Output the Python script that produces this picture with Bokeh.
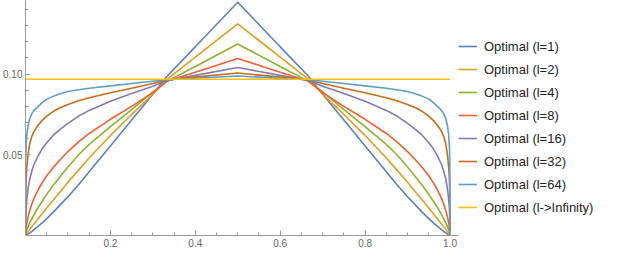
from bokeh.plotting import figure
from bokeh.models import Range1d, FixedTicker, PrintfTickFormatter, Legend, LegendItem
from bokeh.embed import file_html
from bokeh.resources import INLINE

# x positions shared by the curves
x = [0, 0.0005, 0.0015, 0.003, 0.006, 0.01, 0.015, 0.02, 0.03, 0.04, 0.05, 0.065, 0.08, 0.1, 0.125, 0.15,
     0.2, 0.25, 0.3, 0.333, 0.4,
     0.5,
     0.6, 0.667, 0.7, 0.75, 0.8, 0.85, 0.875, 0.9, 0.92, 0.935, 0.95, 0.96, 0.97, 0.98, 0.985, 0.99,
     0.994, 0.997, 0.9985, 0.9995, 1.0]

y_l1 = [0, 0.00005, 0.0002, 0.0004, 0.0009, 0.0016, 0.0025, 0.0036, 0.0058, 0.0080, 0.0105, 0.0143, 0.0185, 0.0240, 0.0315, 0.0395,
        0.0555, 0.0715, 0.0875, 0.0985, 0.1169,
        0.1445,
        0.1169, 0.0985, 0.0875, 0.0715, 0.0555, 0.0395, 0.0315, 0.0240, 0.0185, 0.0143, 0.0105, 0.0080, 0.0058, 0.0036, 0.0025, 0.0016,
        0.0009, 0.0004, 0.0002, 0.00005, 0]
y_l2 = [0, 0.0002, 0.0006, 0.0012, 0.0024, 0.0038, 0.0055, 0.0072, 0.0105, 0.0138, 0.0170, 0.0218, 0.0265, 0.0330, 0.0405, 0.0480,
        0.0620, 0.0750, 0.0875, 0.0968, 0.1105,
        0.1311,
        0.1105, 0.0968, 0.0875, 0.0750, 0.0620, 0.0480, 0.0405, 0.0330, 0.0265, 0.0218, 0.0170, 0.0138, 0.0105, 0.0072, 0.0055, 0.0038,
        0.0024, 0.0012, 0.0006, 0.0002, 0]
y_l4 = [0, 0.0010, 0.0022, 0.0035, 0.0055, 0.0080, 0.0105, 0.0130, 0.0175, 0.0215, 0.0255, 0.0310, 0.0360, 0.0425, 0.0500, 0.0565,
        0.0675, 0.0780, 0.0890, 0.0955, 0.1047,
        0.1186,
        0.1047, 0.0955, 0.0890, 0.0780, 0.0675, 0.0565, 0.0500, 0.0425, 0.0360, 0.0310, 0.0255, 0.0215, 0.0175, 0.0130, 0.0105, 0.0080,
        0.0055, 0.0035, 0.0022, 0.0010, 0]
y_l8 = [0, 0.0030, 0.0055, 0.0075, 0.0115, 0.0155, 0.0195, 0.0230, 0.0285, 0.0330, 0.0370, 0.0420, 0.0465, 0.0520, 0.0580, 0.0632,
        0.0720, 0.0800, 0.0885, 0.0955, 0.1012,
        0.1097,
        0.1012, 0.0955, 0.0885, 0.0800, 0.0720, 0.0632, 0.0580, 0.0520, 0.0465, 0.0420, 0.0370, 0.0330, 0.0285, 0.0230, 0.0195, 0.0155,
        0.0115, 0.0075, 0.0055, 0.0030, 0]
y_l16 = [0, 0.0110, 0.0170, 0.0220, 0.0290, 0.0350, 0.0400, 0.0440, 0.0495, 0.0540, 0.0575, 0.0620, 0.0655, 0.0695, 0.0740, 0.0775,
         0.0832, 0.0880, 0.0925, 0.0960, 0.0992,
         0.1041,
         0.0992, 0.0960, 0.0925, 0.0880, 0.0832, 0.0775, 0.0740, 0.0695, 0.0655, 0.0620, 0.0575, 0.0540, 0.0495, 0.0440, 0.0400, 0.0350,
         0.0290, 0.0220, 0.0170, 0.0110, 0]
y_l32 = [0, 0.0260, 0.0360, 0.0420, 0.0500, 0.0570, 0.0615, 0.0645, 0.0685, 0.0715, 0.0740, 0.0768, 0.0790, 0.0812, 0.0835, 0.0853,
         0.0885, 0.0912, 0.0942, 0.0963, 0.0981,
         0.1007,
         0.0981, 0.0963, 0.0942, 0.0912, 0.0885, 0.0853, 0.0835, 0.0812, 0.0790, 0.0768, 0.0740, 0.0715, 0.0685, 0.0645, 0.0615, 0.0570,
         0.0500, 0.0420, 0.0360, 0.0260, 0]
y_l64 = [0, 0.0460, 0.0560, 0.0620, 0.0680, 0.0725, 0.0755, 0.0775, 0.0800, 0.0825, 0.0845, 0.0862, 0.0877, 0.0892, 0.0903, 0.0912,
         0.0927, 0.0942, 0.0956, 0.0965, 0.0974,
         0.0988,
         0.0974, 0.0965, 0.0956, 0.0942, 0.0927, 0.0912, 0.0903, 0.0892, 0.0877, 0.0862, 0.0845, 0.0825, 0.0800, 0.0775, 0.0755, 0.0725,
         0.0680, 0.0620, 0.0560, 0.0460, 0]
x_inf = [0, 1.0]
y_inf = [0.0968, 0.0968]

labels = ["Optimal (l=1)", "Optimal (l=2)", "Optimal (l=4)", "Optimal (l=8)", "Optimal (l=16)",
          "Optimal (l=32)", "Optimal (l=64)", "Optimal (l->Infinity)"]
colors = ["#5E81B5", "#E19C24", "#8FB032", "#EB6235", "#8778B3", "#C56E1A", "#5D9EC7", "#FFBF00"]

x_ticks = [0.2, 0.4, 0.6, 0.8, 1.0]
x_minor = [0.05, 0.1, 0.15, 0.25, 0.3, 0.35, 0.45, 0.5, 0.55, 0.65, 0.7, 0.75, 0.85, 0.9, 0.95]
y_ticks = [0.05, 0.10]
y_minor = [0.01, 0.02, 0.03, 0.04, 0.06, 0.07, 0.08, 0.09, 0.11, 0.12, 0.13, 0.14]

FONT = "Liberation Sans"

p = figure(frame_width=433, frame_height=235, output_backend="svg", toolbar_location=None,
           x_range=Range1d(0, 1.02), y_range=Range1d(0, 0.1456),
           min_border_top=0, min_border_left=0, min_border_bottom=0, min_border_right=0)
p.grid.visible = False
p.outline_line_color = None
p.background_fill_color = "white"
p.border_fill_color = "white"

series = [(x, y_l1), (x, y_l2), (x, y_l4), (x, y_l8), (x, y_l16), (x, y_l32), (x, y_l64), (x_inf, y_inf)]
items = []
for (xs, ys), lab, col in zip(series, labels, colors):
    r = p.line(xs, ys, line_color=col, line_width=1.6)
    items.append(LegendItem(label=lab, renderers=[r]))

for ax in (p.xaxis[0], p.yaxis[0]):
    ax.axis_line_color = "#9a9a9a"
    ax.major_tick_line_color = "#9a9a9a"
    ax.minor_tick_line_color = "#9a9a9a"
    ax.major_tick_in = 5
    ax.major_tick_out = 0
    ax.minor_tick_in = 3
    ax.minor_tick_out = 0
    ax.major_label_text_font = FONT
    ax.major_label_text_font_size = "10px"
    ax.major_label_text_color = "#666666"
    ax.major_label_standoff = 3

p.xaxis[0].ticker = FixedTicker(ticks=x_ticks, minor_ticks=x_minor)
p.xaxis[0].formatter = PrintfTickFormatter(format="%.1f")
p.yaxis[0].ticker = FixedTicker(ticks=y_ticks, minor_ticks=y_minor)
p.yaxis[0].formatter = PrintfTickFormatter(format="%.2f")

legend = Legend(items=items, location=(0, 18), border_line_color=None, background_fill_alpha=0,
                margin=0, padding=8, glyph_width=19, glyph_height=20, label_standoff=7, spacing=3,
                label_height=20, label_text_font=FONT, label_text_font_size="13px",
                label_text_color="#222222")
p.add_layout(legend, "right")

open("out.html", "w").write(file_html(p, INLINE))
